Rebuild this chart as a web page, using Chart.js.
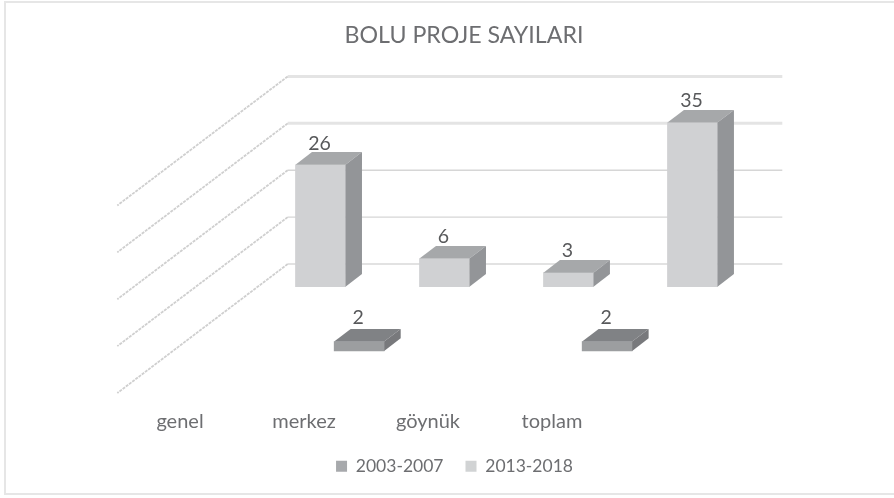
<!DOCTYPE html>
<html><head><meta charset="utf-8">
<style>
html,body{margin:0;padding:0;background:#fff;}
#wrap{position:absolute;left:0;top:0;width:894px;height:498px;}
#frame{position:absolute;left:4px;top:1px;width:890px;height:494px;box-sizing:border-box;border:2px solid #e6e6e6;border-right:none;pointer-events:none;}
</style>
<script src="https://cdn.jsdelivr.net/npm/chart.js@4"></script>
</head><body>
<div id="wrap"><canvas id="c" width="894" height="498"></canvas><div id="frame"></div></div>
<script>
const categories = ['genel','merkez','göynük','toplam'];
const series2003 = [null,2,null,2];
const series2013 = [26,6,3,35];
const seriesNames = ['2003-2007','2013-2018'];
const gridValues = [0,10,20,30,40];
const titleText = 'BOLU PROJE SAYILARI';

const FONT = 'Lato, "Open Sans", sans-serif';
const TEXT = '#6d6e71';
const palette2003 = {front:'#9c9ea0', top:'#808285', side:'#78797c', legend:'#a7a9ac'};
const palette2013 = {front:'#d0d1d3', top:'#a6a8aa', side:'#939598', legend:'#d1d3d4'};
const depth = {dx:16.5, dy:12.7};
const floorDepth = {dx:170.4, dy:129};
const wall = {left:287.7, right:782.3, lift:22.7};

const extrude = {
  id:'extrude',
  beforeDatasetsDraw(chart){
    const {ctx} = chart;
    const y = chart.scales.yBack;
    ctx.save();
    gridValues.forEach((v,i)=>{
      const py = y.getPixelForValue(v) - wall.lift;
      ctx.setLineDash([]);
      ctx.strokeStyle = i>2 ? '#e4e4e4' : (i===0 ? '#e2e2e2' : '#d6d6d6');
      ctx.lineWidth = i>2 ? 3 : (i===0 ? 2 : 1.4);
      ctx.beginPath();ctx.moveTo(wall.left,py);ctx.lineTo(wall.right,py);ctx.stroke();
      ctx.setLineDash([3,1]);
      ctx.strokeStyle = '#cfcfcf';
      ctx.lineWidth = 1.8;
      ctx.beginPath();ctx.moveTo(wall.left,py);ctx.lineTo(wall.left-floorDepth.dx,py+floorDepth.dy);ctx.stroke();
    });
    ctx.restore();
  },
  afterDatasetDraw(chart,args){
    const {ctx} = chart;
    const pal = args.index===0 ? palette2003 : palette2013;
    const values = chart.data.datasets[args.index].data;
    ctx.save();
    args.meta.data.forEach((bar,i)=>{
      if(values[i].y==null) return;
      const p = bar.getProps(['x','y','base','width'],true);
      const l=p.x-p.width/2, r=p.x+p.width/2, t=p.y, b=p.base;
      ctx.fillStyle = pal.top;
      ctx.beginPath();ctx.moveTo(l,t);ctx.lineTo(l+depth.dx,t-depth.dy);ctx.lineTo(r+depth.dx,t-depth.dy);ctx.lineTo(r,t);ctx.closePath();ctx.fill();
      ctx.fillStyle = pal.side;
      ctx.beginPath();ctx.moveTo(r,t);ctx.lineTo(r+depth.dx,t-depth.dy);ctx.lineTo(r+depth.dx,b-depth.dy);ctx.lineTo(r,b);ctx.closePath();ctx.fill();
    });
    ctx.restore();
  },
  afterDatasetsDraw(chart){
    const {ctx} = chart;
    ctx.save();
    ctx.font = '19.5px '+FONT;
    ctx.fillStyle = '#58595b';
    ctx.textAlign='center';
    ctx.textBaseline='middle';
    chart.data.datasets.forEach((ds,di)=>{
      const lift = di===0 ? 23.5 : 21.5;
      chart.getDatasetMeta(di).data.forEach((bar,i)=>{
        const v = ds.data[i].y;
        if(v==null) return;
        const p = bar.getProps(['x','y'],true);
        ctx.fillText(String(v),p.x-1,p.y-lift);
      });
    });
    ctx.restore();
  }
};

const toPoints = arr => arr.map((v,i)=>({x:i,y:v}));

new Chart(document.getElementById('c'),{
  type:'bar',
  data:{datasets:[
    {label:seriesNames[0],data:toPoints(series2003),backgroundColor:palette2003.front,xAxisID:'xFront',yAxisID:'yFront',barThickness:50,grouped:false},
    {label:seriesNames[1],data:toPoints(series2013),backgroundColor:palette2013.front,xAxisID:'xBack',yAxisID:'yBack',barThickness:50,grouped:false}
  ]},
  options:{
    responsive:false,animation:false,
    layout:{padding:{left:99,right:84,top:0,bottom:13}},
    scales:{
      xBack:{type:'linear',display:false,offset:false,min:-1.633,max:3.948},
      xFront:{type:'linear',display:false,offset:false,min:-0.945,max:4.636},
      xLabels:{type:'linear',position:'bottom',offset:false,min:-0.5,max:5.081,
        grid:{display:false,drawTicks:false},border:{display:false},
        afterBuildTicks(s){s.ticks=categories.map((_,i)=>({value:i}));},
        afterFit(s){s.height=31.5;},
        ticks:{autoSkip:false,maxRotation:0,color:TEXT,font:{family:FONT,size:20},padding:6,
          callback(v){return categories[v];}}},
      yBack:{type:'linear',position:'left',min:-25.0,max:48.34,
        grid:{display:false,drawTicks:false},border:{display:false},ticks:{display:false},
        afterFit(s){s.width=19;}},
      yFront:{type:'linear',display:false,min:-11.3,max:62.04}
    },
    plugins:{
      title:{display:true,fullSize:false,text:titleText,color:TEXT,font:{family:FONT,size:23.2,weight:'normal'},padding:{top:21.5,bottom:10.7}},
      legend:{position:'bottom',labels:{color:TEXT,font:{family:FONT,size:17.5},boxWidth:11,boxHeight:11,padding:22,
        generateLabels(){return [palette2003,palette2013].map((p,i)=>({text:seriesNames[i],fillStyle:p.legend,strokeStyle:p.legend,lineWidth:0,fontColor:TEXT,datasetIndex:i}));}}},
      tooltip:{enabled:false}
    }
  },
  plugins:[extrude]
});
</script>
</body></html>
